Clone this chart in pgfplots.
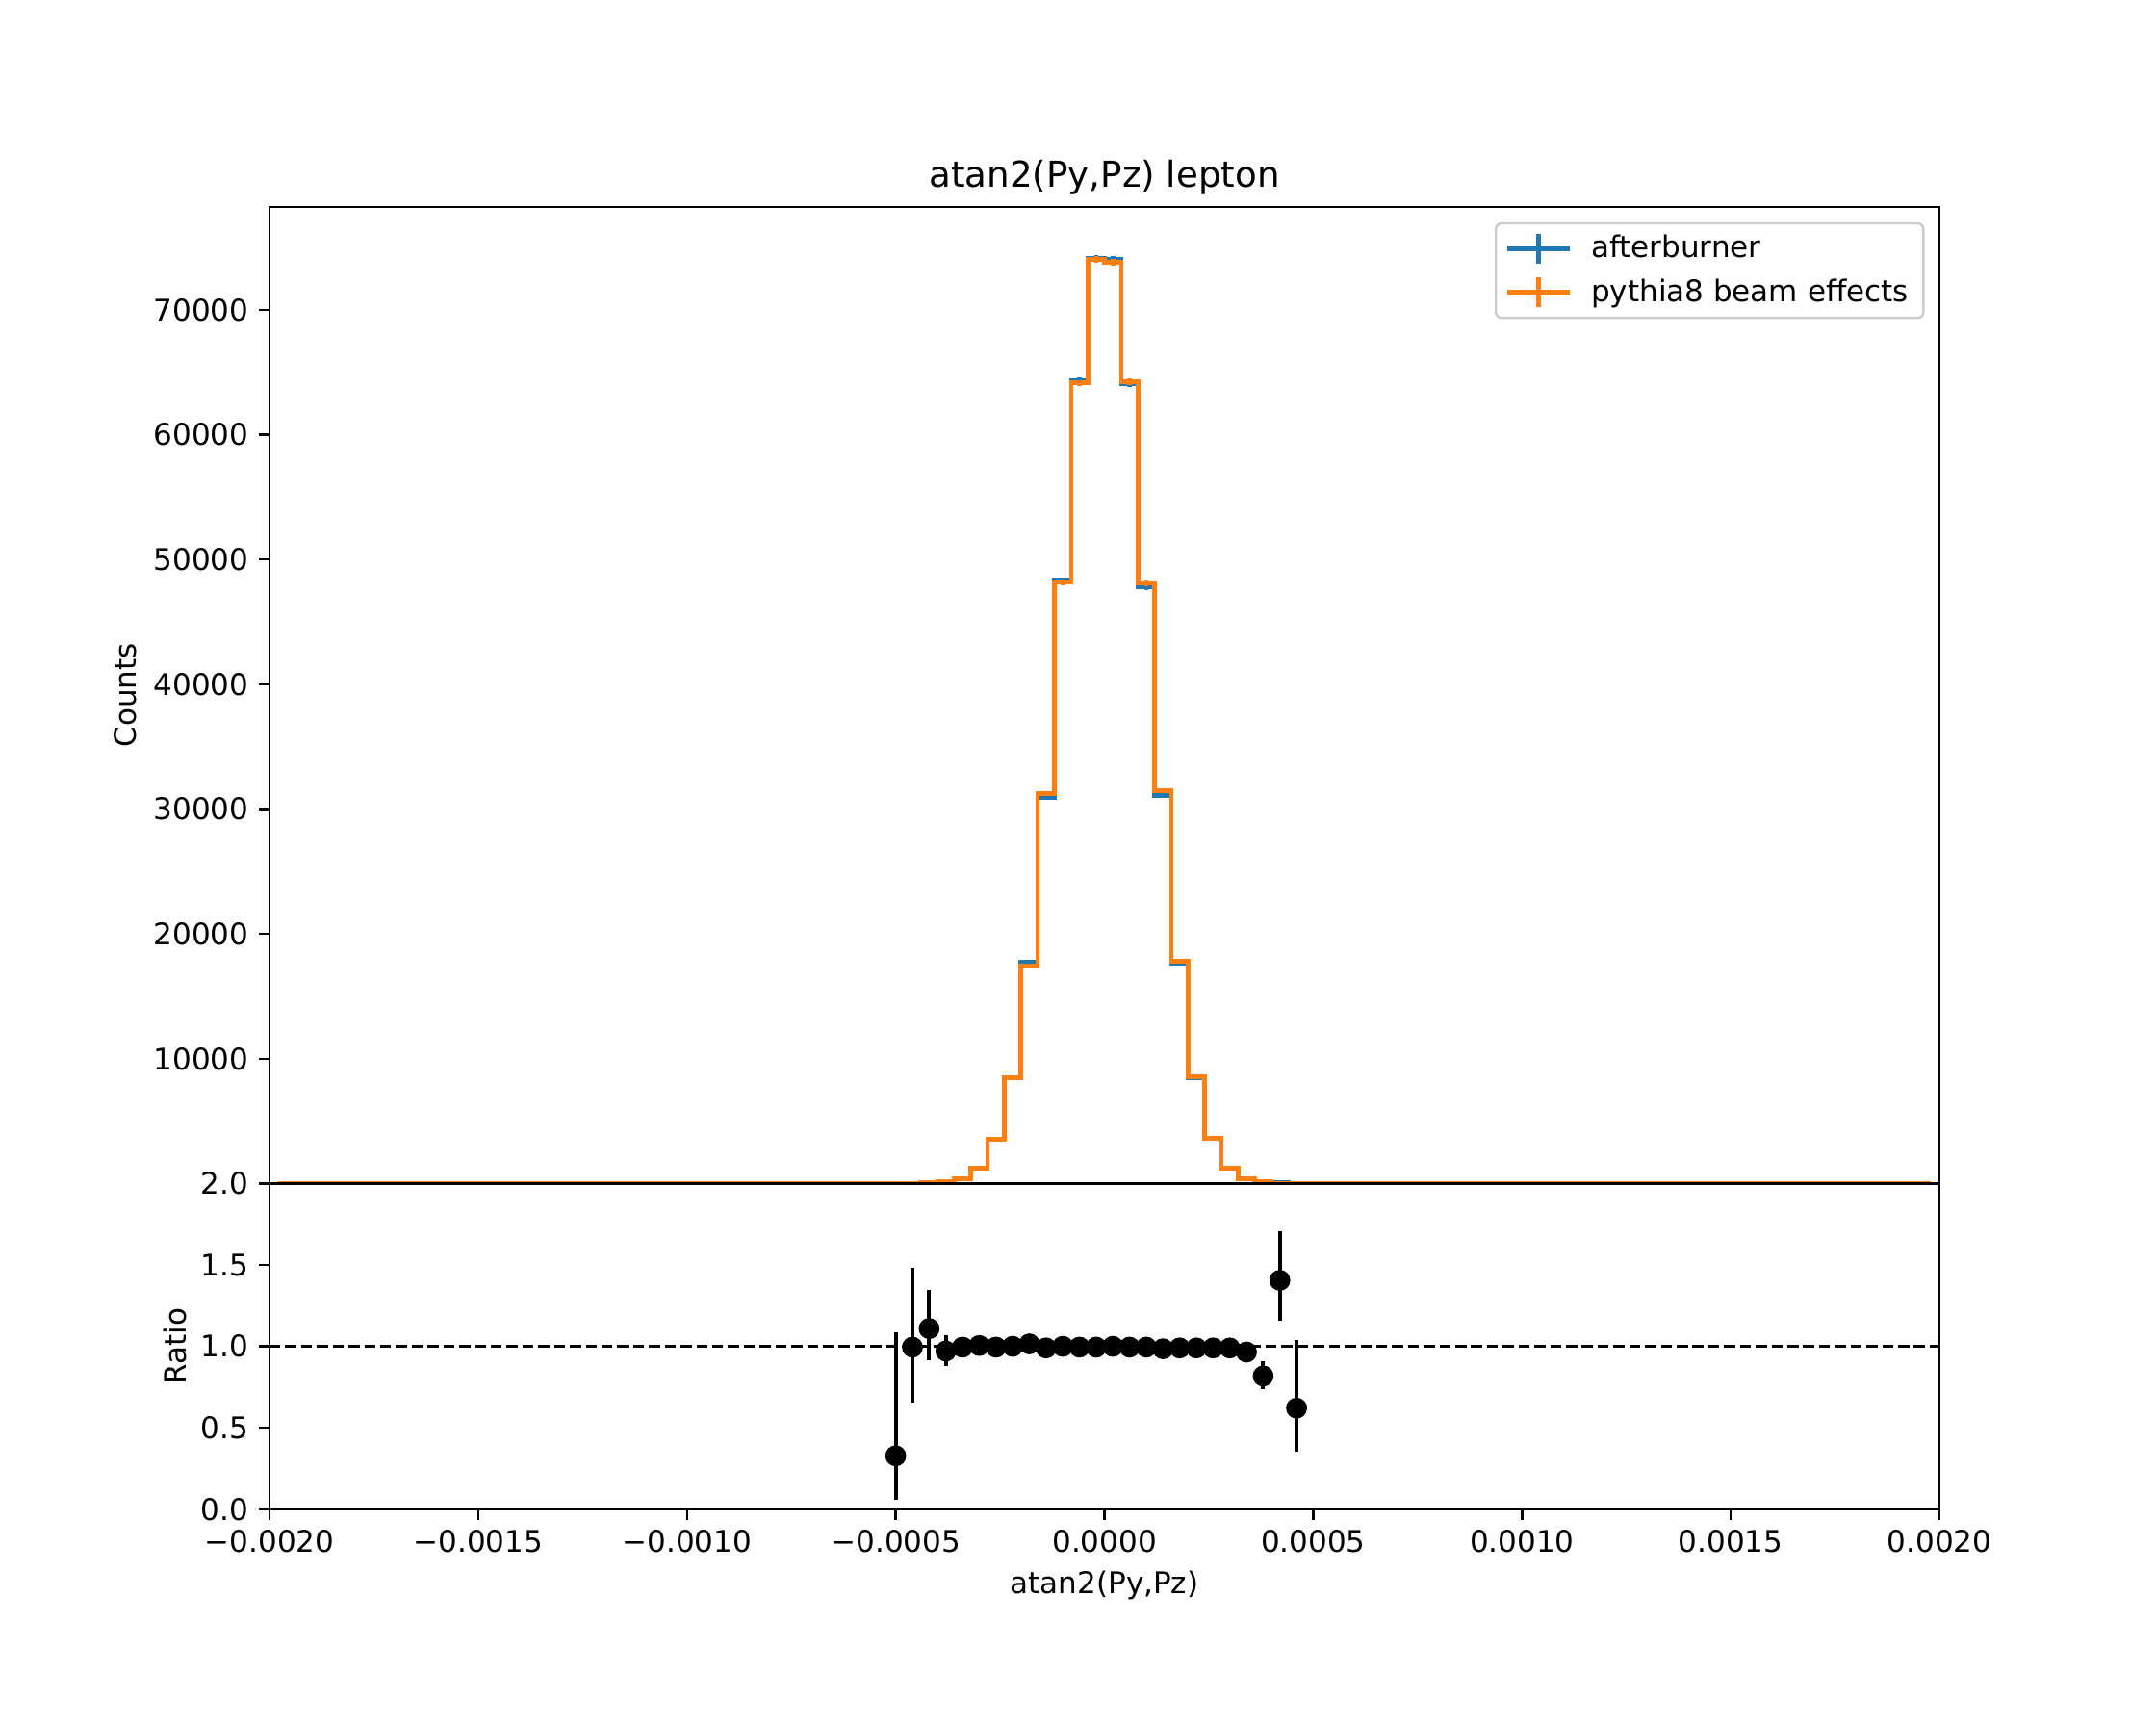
\documentclass[border=0pt]{standalone}
\usepackage{fontspec}
\setmainfont{DejaVu Sans}
\usepackage{pgfplots}
\usepackage{pgfplotstable}
\pgfplotsset{compat=1.18}
\definecolor{tabblue}{HTML}{1F77B4}
\definecolor{taborange}{HTML}{FF7F0E}

% afterburner
\pgfplotstableread{
x y e
-0.00198 0 0
-0.00054 0 0
-0.00050 1 1
-0.00046 11 3.3
-0.00042 53 7.3
-0.00038 194 14
-0.00034 388 20
-0.00030 1250 35
-0.00026 3545 60
-0.00022 8500 92
-0.00018 17750 133
-0.00014 30920 176
-0.00010 48370 220
-0.00006 64350 254
-0.00002 74150 272
0.00002 74060 272
0.00006 64050 253
0.00010 47800 219
0.00014 31100 176
0.00018 17620 133
0.00022 8500 92
0.00026 3590 60
0.00030 1220 35
0.00034 380 19
0.00038 160 13
0.00042 62 7.9
0.00046 5 2.2
0.00050 0 0
0.00198 0 0
}\histA

% pythia8 beam effects
\pgfplotstableread{
x y e
-0.00198 0 0
-0.00054 0 0
-0.00050 3 1.7
-0.00046 11 3.3
-0.00042 48 6.9
-0.00038 200 14
-0.00034 390 20
-0.00030 1240 35
-0.00026 3560 60
-0.00022 8500 92
-0.00018 17450 132
-0.00014 31250 177
-0.00010 48170 219
-0.00006 64150 253
-0.00002 74060 272
0.00002 73820 272
0.00006 64270 254
0.00010 48100 219
0.00014 31480 177
0.00018 17820 133
0.00022 8580 93
0.00026 3620 60
0.00030 1230 35
0.00034 395 20
0.00038 196 14
0.00042 45 6.7
0.00046 8 2.8
0.00050 0 0
0.00198 0 0
}\histB

% ratio
\pgfplotstableread{
x y ep em
-0.00050 0.328 0.761 0.269
-0.00046 0.995 0.49 0.34
-0.00042 1.109 0.24 0.197
-0.00038 0.971 0.099 0.092
-0.00034 0.995 0.06 0.06
-0.00030 1.005 0.035 0.035
-0.00026 0.995 0.02 0.02
-0.00022 1.000 0.015 0.015
-0.00018 1.015 0.01 0.01
-0.00014 0.990 0.008 0.008
-0.00010 1.000 0.006 0.006
-0.00006 0.995 0.006 0.006
-0.00002 0.995 0.005 0.005
0.00002 1.000 0.005 0.005
0.00006 0.995 0.006 0.006
0.00010 0.995 0.006 0.006
0.00014 0.985 0.008 0.008
0.00018 0.990 0.01 0.01
0.00022 0.990 0.015 0.015
0.00026 0.990 0.02 0.02
0.00030 0.990 0.035 0.035
0.00034 0.965 0.06 0.06
0.00038 0.818 0.09 0.083
0.00042 1.405 0.30 0.25
0.00046 0.621 0.42 0.27
}\ratio

\pgfplotsset{
  common/.style={
    scale only axis,
    width=559.8pt,
    xmin=-0.002, xmax=0.002,
    axis line style={line width=0.8pt, black},
    tick align=outside,
    major tick length=3.5pt,
    every tick/.style={black, line width=0.8pt},
    xtick pos=left, ytick pos=left,
    scaled x ticks=false, scaled y ticks=false,
    tick label style={font=\fontsize{10}{12}\selectfont},
    label style={font=\fontsize{10}{12}\selectfont},
  },
  histimg/.style={
    legend image code/.code={
      \draw[##1, line width=1.5pt] (0pt,0pt) -- (21pt,0pt);
      \draw[##1, line width=1.5pt] (10.5pt,-5pt) -- (10.5pt,5pt);
      \path (25.5pt,0pt);
    }
  }
}

\begin{document}
\begin{tikzpicture}
\path[use as bounding box] (0,0) rectangle (722.7pt,578.2pt);

\begin{axis}[common,
  at={(90.34pt,181.54pt)}, anchor=south west,
  height=327.2pt,
  ymin=0, ymax=78230,
  xtick=\empty,
  ytick={10000,20000,30000,40000,50000,60000,70000},
  yticklabels={10000,20000,30000,40000,50000,60000,70000},
  axis on top,
  ylabel={Counts},
  ylabel style={at={(axis description cs:-0.0865,0.5)}, anchor=center},
  title={atan2(Py,Pz) lepton},
  title style={at={(axis description cs:0.5,1.012)}, anchor=center, inner sep=0pt, font=\fontsize{12}{14}\selectfont},
  legend style={at={(1,1)}, anchor=north east, xshift=-5pt, yshift=-5pt,
    draw=black!20, line width=0.8pt, rounded corners=2pt, fill=white,
    font=\fontsize{10}{12}\selectfont, inner xsep=3pt, inner ysep=2pt,
    row sep=1.5pt},
  legend cell align=left,
]
\addplot[tabblue, histimg, line width=1.5pt, const plot mark mid,
  error bars/.cd, y dir=both, y explicit, error bar style={line width=1.5pt}, error mark=none]
  table[x=x, y=y, y error=e]{\histA};
\addlegendentry{afterburner}
\addplot[taborange, histimg, line width=1.5pt, const plot mark mid,
  error bars/.cd, y dir=both, y explicit, error bar style={line width=1.5pt}, error mark=none]
  table[x=x, y=y, y error=e]{\histB};
\addlegendentry{pythia8 beam effects}
\end{axis}

\begin{axis}[common,
  at={(90.34pt,72.37pt)}, anchor=south west,
  height=109.2pt,
  ymin=0, ymax=2,
  ytick={0,0.5,1,1.5,2},
  yticklabels={0.0,0.5,1.0,1.5,2.0},
  xtick={-0.002,-0.0015,-0.001,-0.0005,0,0.0005,0.001,0.0015,0.002},
  xticklabels={−0.0020,−0.0015,−0.0010,−0.0005,0.0000,0.0005,0.0010,0.0015,0.0020},
  ylabel={Ratio},
  ylabel style={at={(axis description cs:-0.0565,0.5)}, anchor=center},
  xlabel={atan2(Py,Pz)},
  xlabel style={at={(axis description cs:0.5,-0.2334)}, anchor=center},
]
\addplot[black, dash pattern=on 3.7pt off 1.6pt, line width=1pt] coordinates {(-0.002,1) (0.002,1)};
\addplot[only marks, mark=*, mark size=3.3pt, black,
  error bars/.cd, y dir=both, y explicit, error bar style={line width=1.3pt, black}, error mark=none]
  table[x=x, y=y, y error plus=ep, y error minus=em]{\ratio};
\end{axis}
\end{tikzpicture}
\end{document}
